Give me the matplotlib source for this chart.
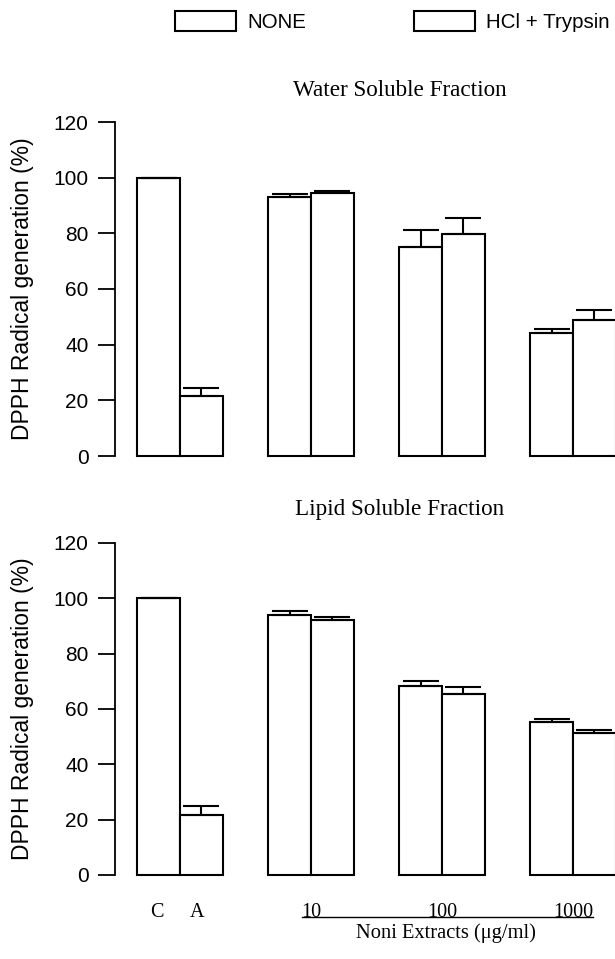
import numpy as np
import matplotlib
matplotlib.use("Agg")
import matplotlib.pyplot as plt
from matplotlib.transforms import blended_transform_factory

# values (% DPPH radical generation)
control_labels = ["C", "A"]
conc_labels = ["10", "100", "1000"]
series_labels = ["NONE", "HCl + Trypsin"]

water_control = [100.0, 21.6]
water_control_err = [0.0, 2.8]
water_none = [93.1, 75.1, 44.2]
water_none_err = [1.0, 6.1, 1.4]
water_hcl = [94.5, 79.8, 48.9]
water_hcl_err = [0.7, 5.7, 3.6]

lipid_control = [100.0, 21.8]
lipid_control_err = [0.0, 3.0]
lipid_none = [93.8, 68.3, 55.3]
lipid_none_err = [1.8, 1.7, 1.1]
lipid_hcl = [92.0, 65.4, 51.4]
lipid_hcl_err = [1.4, 2.6, 1.1]

SANS = "Liberation Sans"
SERIF = "Liberation Serif"
plt.rcParams["font.family"] = [SANS, "DejaVu Sans"]

W, H = 615, 959
fig = plt.figure(figsize=(W / 100, H / 100), dpi=100)

pitch = 3.06
groups = np.arange(len(conc_labels) + 1) * pitch
bar_kw = dict(width=1.0, color="white", edgecolor="black", linewidth=1.5, clip_on=False)
err_kw = dict(fmt="none", ecolor="black", elinewidth=1.5, capsize=13, capthick=1.5, clip_on=False)


def panel(ax, control, control_err, none, none_err, hcl, hcl_err):
    cx = groups[0] + np.array([-0.5, 0.5])
    nx = groups[1:] - 0.5
    hx = groups[1:] + 0.5
    ax.bar(cx, control, **bar_kw)
    b1 = ax.bar(nx, none, label=series_labels[0], **bar_kw)
    b2 = ax.bar(hx, hcl, label=series_labels[1], **bar_kw)
    ax.errorbar(cx, control, yerr=[np.zeros(2), control_err], **err_kw)
    ax.errorbar(nx, none, yerr=[np.zeros(3), none_err], **err_kw)
    ax.errorbar(hx, hcl, yerr=[np.zeros(3), hcl_err], **err_kw)

    ax.set_xlim(-1.52, 10.16)
    ax.set_ylim(0, 120)
    ax.set_yticks(np.arange(0, 121, 20))
    for s in ["top", "right", "bottom"]:
        ax.spines[s].set_visible(False)
    ax.spines["left"].set_linewidth(1.3)
    ax.tick_params(axis="y", direction="out", length=12, width=1.3, pad=7, labelsize=15)
    ax.tick_params(axis="x", length=0)
    ax.set_ylabel("DPPH Radical generation (%)", fontsize=16.5)
    ax.yaxis.set_label_coords(-0.162, 0.5)
    return b1, b2


ax1 = fig.add_axes([115 / W, 1 - 456 / H, 500 / W, 334 / H])
ax2 = fig.add_axes([115 / W, 1 - 875 / H, 500 / W, 332 / H])

h1, h2 = panel(ax1, water_control, water_control_err, water_none, water_none_err, water_hcl, water_hcl_err)
panel(ax2, lipid_control, lipid_control_err, lipid_none, lipid_none_err, lipid_hcl, lipid_hcl_err)

ax1.set_xticks([])
ax2.set_xticks(list(groups[0] + np.array([-0.55, 0.4])) + list(groups[1:]))
ax2.set_xticklabels(control_labels + conc_labels, fontfamily=SERIF, fontsize=14.5)
ax2.tick_params(axis="x", pad=20)

# underline and label for the extract concentrations
tr = blended_transform_factory(ax2.transData, ax2.transAxes)
ax2.plot([groups[1] - 0.22, groups[3] + 0.47], [-0.126, -0.126], color="black",
         linewidth=1.0, transform=tr, clip_on=False)
ax2.text(groups[2] + 0.1, -0.174, "Noni Extracts (\u03bcg/ml)", transform=tr, ha="center",
         va="center", fontfamily=SERIF, fontsize=14.8)

fig.text(400 / W, 1 - 90 / H, "Water Soluble Fraction", ha="center", va="center",
         fontfamily=SERIF, fontsize=16.7)
fig.text(400 / W, 1 - 510 / H, "Lipid Soluble Fraction", ha="center", va="center",
         fontfamily=SERIF, fontsize=16.7)

fig.legend([h1, h2], series_labels, loc="upper left", bbox_to_anchor=(175 / W, 1 - 11 / H),
           ncol=2, frameon=False, fontsize=14.8, handlelength=2.97, handleheight=1.12,
           handletextpad=0.54, columnspacing=5.25, borderpad=0, borderaxespad=0)

fig.savefig("out.png", dpi=100)
plt.close(fig)
